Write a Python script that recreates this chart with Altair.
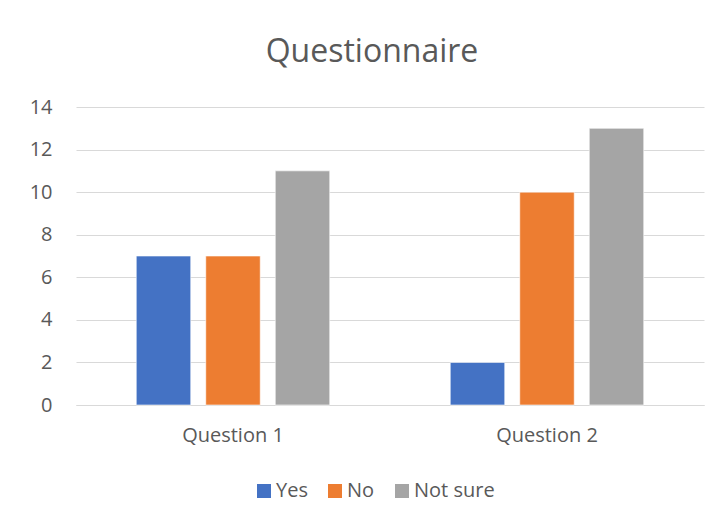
import altair as alt
import pandas as pd

questions = ["Question 1", "Question 2"]
answers = ["Yes", "No", "Not sure"]
yes_vals = [7, 2]
no_vals = [7, 10]
notsure_vals = [11, 13]
colors = ["#4472C4", "#ED7D31", "#A5A5A5"]
y_ticks = [0, 2, 4, 6, 8, 10, 12, 14]

rows = []
for i, q in enumerate(questions):
    for a, vals in zip(answers, [yes_vals, no_vals, notsure_vals]):
        rows.append({"question": q, "answer": a, "count": vals[i]})
df = pd.DataFrame(rows)

FONT = "Open Sans"
GREY = "#595959"

chart = alt.Chart(df).mark_bar(stroke="white", strokeWidth=0.6).encode(
    x=alt.X("question:N", sort=questions,
            scale=alt.Scale(paddingInner=0, paddingOuter=0),
            axis=alt.Axis(title=None, labelAngle=0, ticks=False, domain=True,
                          domainColor="#d9d9d9", labelFontSize=20, labelColor=GREY,
                          labelFont=FONT, labelPadding=20)),
    xOffset=alt.XOffset("answer:N", sort=answers,
                        scale=alt.Scale(paddingInner=0.216, paddingOuter=0.867)),
    y=alt.Y("count:Q", scale=alt.Scale(domain=[0, 14]),
            axis=alt.Axis(title=None, values=y_ticks, ticks=False, domain=False,
                          grid=True, gridColor="#d9d9d9", gridWidth=1.2,
                          labelFontSize=20, labelColor=GREY, labelFont=FONT,
                          labelPadding=24)),
    color=alt.Color("answer:N", sort=answers,
                    scale=alt.Scale(domain=answers, range=colors),
                    legend=alt.Legend(title=None, orient="none", legendX=178, legendY=374,
                                      direction="horizontal", symbolType="square",
                                      symbolSize=196, symbolStrokeWidth=0,
                                      labelFontSize=20, labelColor=GREY, labelFont=FONT,
                                      columnPadding=17, labelOffset=2)),
).properties(
    width=628,
    height=298,
    title=alt.TitleParams("Questionnaire", fontSize=32, font=FONT, color=GREY,
                          fontWeight="normal", anchor="middle", dx=-18, offset=28),
    autosize=alt.AutoSizeParams(type="none"),
    padding={"left": 68, "top": 99, "right": 9, "bottom": 100},
).configure_view(stroke=None)

chart.save("out.html", embed_options={"renderer": "svg", "actions": False})
